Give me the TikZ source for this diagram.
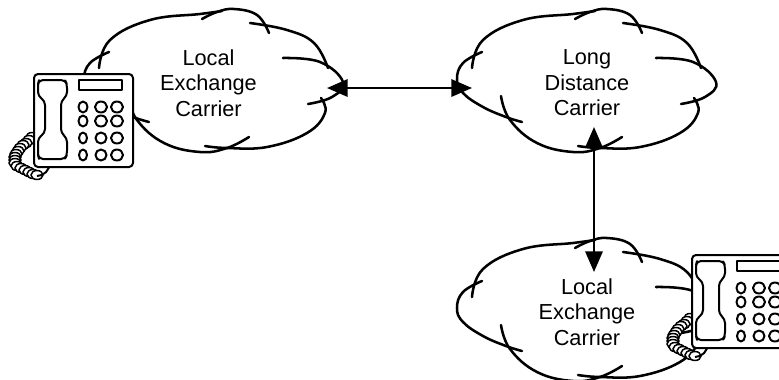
\documentclass[tikz,border=0pt]{standalone}
\usepackage{fontspec}
\setmainfont{Liberation Sans}
\usetikzlibrary{arrows.meta}
\tikzset{
  cloudline/.style={line width=1.9pt,line cap=round},
  lbl/.style={align=center,font=\fontsize{16.3}{19.1}\selectfont,inner sep=0pt},
  link/.style={line width=1.7pt,{Triangle[length=15.5pt,width=13pt]}-{Triangle[length=15.5pt,width=13pt]}},
  phoneline/.style={line width=1.5pt,line join=round},
  coil/.style={line width=1.1pt,fill=white},
  cloudshape/.pic={
    \draw[cloudline] plot[smooth,tension=.7] coordinates {(82,122)(66,117)(43,107)(23,93)(17,79)(23,63)(42,52)};
    \draw[cloudline] plot[smooth,tension=.7] coordinates {(32,68)(43,40)(83,20)(133,14)(155,11)};
    \draw[cloudline] plot[smooth,tension=.7] coordinates {(135,19)(150,12)(167,9)(190,15)(202,33)};
    \draw[cloudline] plot[smooth,tension=.7] coordinates {(183,23)(220,30)(247,43)(261,68)};
    \draw[cloudline] plot[smooth,tension=.7] coordinates {(216,58)(253,62)(276,82)(265,97)(241,104)};
    \draw[cloudline] plot[smooth,tension=.7] coordinates {(254,98)(258,113)(240,133)(200,147)(160,148)(138,146)};
    \draw[cloudline] plot[smooth,tension=.7] coordinates {(182,137)(160,148)(133,152)(97,143)(70,120)(61,96)};
  },
  phoneshape/.pic={
    \foreach \a/\b in {32/137,29/140,26/143,23/145,20/148,18/151,16/154,15/157,15/160,15/163,17/166,21/168,25/170,29/172,33/174,37/175}{
      \draw[coil] (\a,\b) ellipse[x radius=6,y radius=4.5];
    }
    \draw[phoneline] (37,176) .. controls (44,176) and (50,170) .. (50,162);
    \draw[phoneline,fill=white,rounded corners=3pt] (34,74) rectangle (133,167);
    \draw[phoneline,fill=white,rounded corners=3pt] (39,80) -- (65,80) -- (67,84) -- (67,96) -- (61,101) -- (61,133) -- (67,138) -- (67,155) -- (65,159) -- (39,159) -- (38,155) -- (38,138) -- (45,133) -- (45,101) -- (38,96) -- (38,84) -- cycle;
    \draw[phoneline] (79,80) rectangle (122,90);
    \foreach \x/\y/\rx in {
      83/107/4.5, 101/107/6, 117/107/6,
      83/121/4.5, 101/121/6, 117/121/6,
      83/138/4, 101/138/5.5, 117/138/6,
      83/155/4, 101/155/5.5, 117/155/6}{
      \draw[phoneline] (\x,\y) ellipse[x radius=\rx,y radius=5.5];
    }
  }
}
\begin{document}
\begin{tikzpicture}[x=0.75pt,y=-0.75pt]
\useasboundingbox (0,0) rectangle (779,379);
\begin{scope}
\clip (0,0) rectangle (779,379);
\pic at (67,0) {cloudshape};
\pic at (440,0) {cloudshape};
\pic at (440,229) {cloudshape};
\pic at (0,0) {phoneshape};
\pic at (658,181) {phoneshape};
\end{scope}
\node[lbl] (t1) at (208.5,83) {Local\\Exchange\\Carrier};
\node[lbl] (t2) at (587,83) {Long\\Distance\\Carrier};
\node[lbl] (t3) at (587,312) {Local\\Exchange\\Carrier};
\coordinate (c1e) at (327,88);
\coordinate (c2w) at (472,88);
\coordinate (c2s) at (594,127);
\coordinate (c3n) at (594,272);
\draw[link] (c1e) -- (c2w);
\draw[link] (c2s) -- (c3n);
\end{tikzpicture}
\end{document}
